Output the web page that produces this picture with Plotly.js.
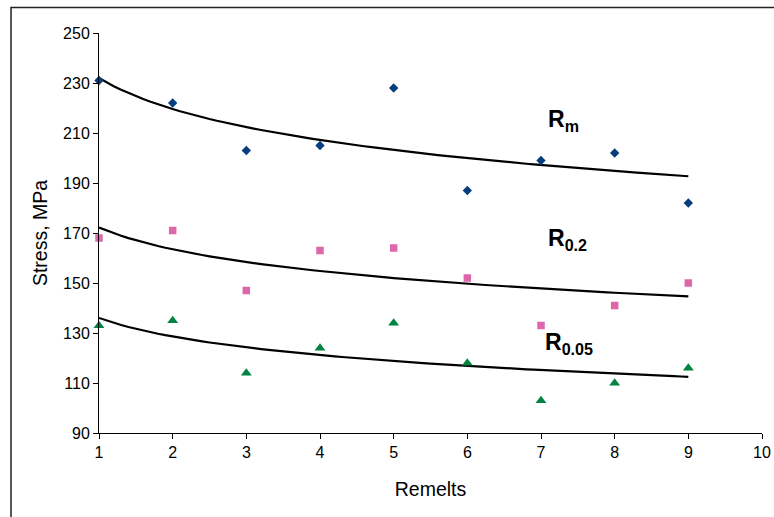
<!DOCTYPE html>
<html>
<head>
<meta charset="utf-8">
<script src="https://cdn.plot.ly/plotly-3.0.1.min.js"></script>
<style>
html,body{margin:0;padding:0;background:#fff;}
#chart{width:774px;height:517px;}
</style>
</head>
<body>
<div id="chart"></div>
<script>
// Data
const remelts = [1, 2, 3, 4, 5, 6, 7, 8, 9];
const rm   = [231, 222, 203, 205, 228, 187, 199, 202, 182];
const r02  = [168, 171, 147, 163, 164, 152, 133, 141, 150];
const r005 = [133, 135, 114, 124, 134, 118, 103, 110, 116];
const xTicks = [1, 2, 3, 4, 5, 6, 7, 8, 9, 10];
const yTicks = [90, 110, 130, 150, 170, 190, 210, 230, 250];

// Logarithmic trendline (least squares y = a + b ln x), as in a spreadsheet trendline
function logFit(xs, ys) {
  const n = xs.length;
  const lx = xs.map(Math.log);
  const mx = lx.reduce((s, v) => s + v, 0) / n;
  const my = ys.reduce((s, v) => s + v, 0) / n;
  let sxy = 0, sxx = 0;
  for (let i = 0; i < n; i++) { sxy += (lx[i] - mx) * (ys[i] - my); sxx += (lx[i] - mx) ** 2; }
  const b = sxy / sxx, a = my - b * mx;
  const tx = [], ty = [];
  const x0 = xs[0], x1 = xs[n - 1];
  for (let k = 0; k <= 80; k++) { const x = x0 + (x1 - x0) * k / 80; tx.push(x); ty.push(a + b * Math.log(x)); }
  return {x: tx, y: ty};
}

const fRm = logFit(remelts, rm), f02 = logFit(remelts, r02), f005 = logFit(remelts, r005);
const lineStyle = {color: '#000', width: 2.2};

const traces = [
  {x: fRm.x, y: fRm.y, mode: 'lines', line: lineStyle, hoverinfo: 'skip'},
  {x: f02.x, y: f02.y, mode: 'lines', line: lineStyle, hoverinfo: 'skip'},
  {x: f005.x, y: f005.y, mode: 'lines', line: lineStyle, hoverinfo: 'skip'},
  {x: remelts, y: rm, mode: 'markers', name: 'Rm', marker: {symbol: 'diamond', size: 7.2, color: '#063d7e'}, cliponaxis: false},
  {x: remelts, y: r02, mode: 'markers', name: 'R0.2', marker: {symbol: 'square', size: 7.5, color: '#de66ab'}, cliponaxis: false},
  {x: remelts, y: r005, mode: 'markers', name: 'R0.05', marker: {symbol: 'triangle-up', size: 9.5, color: '#00843f'}, cliponaxis: false}
];

const font = {family: '"Liberation Sans", Arial, sans-serif', color: '#000'};

const layout = {
  width: 774, height: 517,
  margin: {l: 99, r: 12, t: 33, b: 84},
  paper_bgcolor: '#fff', plot_bgcolor: '#fff',
  showlegend: false,
  font: Object.assign({size: 15}, font),
  xaxis: {
    range: [1, 10], tickvals: xTicks, ticktext: xTicks.map(String),
    showgrid: false, zeroline: false, showline: true, linecolor: '#000', linewidth: 1,
    ticks: 'outside', ticklen: 5, tickcolor: '#000', tickwidth: 1,
    tickfont: Object.assign({size: 16}, font),
    title: {text: 'Remelts', font: Object.assign({size: 19.5}, font), standoff: 22},
    fixedrange: true
  },
  yaxis: {
    range: [90, 250], tickvals: yTicks, ticktext: yTicks.map(String),
    showgrid: false, zeroline: false, showline: true, linecolor: '#000', linewidth: 1,
    ticks: 'outside', ticklen: 5, tickcolor: '#000', tickwidth: 1,
    tickfont: Object.assign({size: 16}, font),
    title: {text: 'Stress, MPa', font: Object.assign({size: 19.5}, font), standoff: 10},
    fixedrange: true
  },
  annotations: [
    {x: 7.07, y: 215.2, xref: 'x', yref: 'y', text: '<b>R<sub>m</sub></b>', showarrow: false, xanchor: 'left', yanchor: 'middle', font: Object.assign({size: 23}, font)},
    {x: 7.07, y: 167.4, xref: 'x', yref: 'y', text: '<b>R<sub>0.2</sub></b>', showarrow: false, xanchor: 'left', yanchor: 'middle', font: Object.assign({size: 23}, font)},
    {x: 7.03, y: 126, xref: 'x', yref: 'y', text: '<b>R<sub>0.05</sub></b>', showarrow: false, xanchor: 'left', yanchor: 'middle', font: Object.assign({size: 23}, font)}
  ],
  shapes: [
    {type: 'rect', xref: 'paper', yref: 'paper', x0: -0.1327, x1: 1.1, y0: -0.4, y1: 1.064,
     line: {color: '#222', width: 1.5}, fillcolor: 'rgba(0,0,0,0)', layer: 'below'}
  ]
};

Plotly.newPlot('chart', traces, layout, {staticPlot: true, displayModeBar: false});
</script>
</body>
</html>
